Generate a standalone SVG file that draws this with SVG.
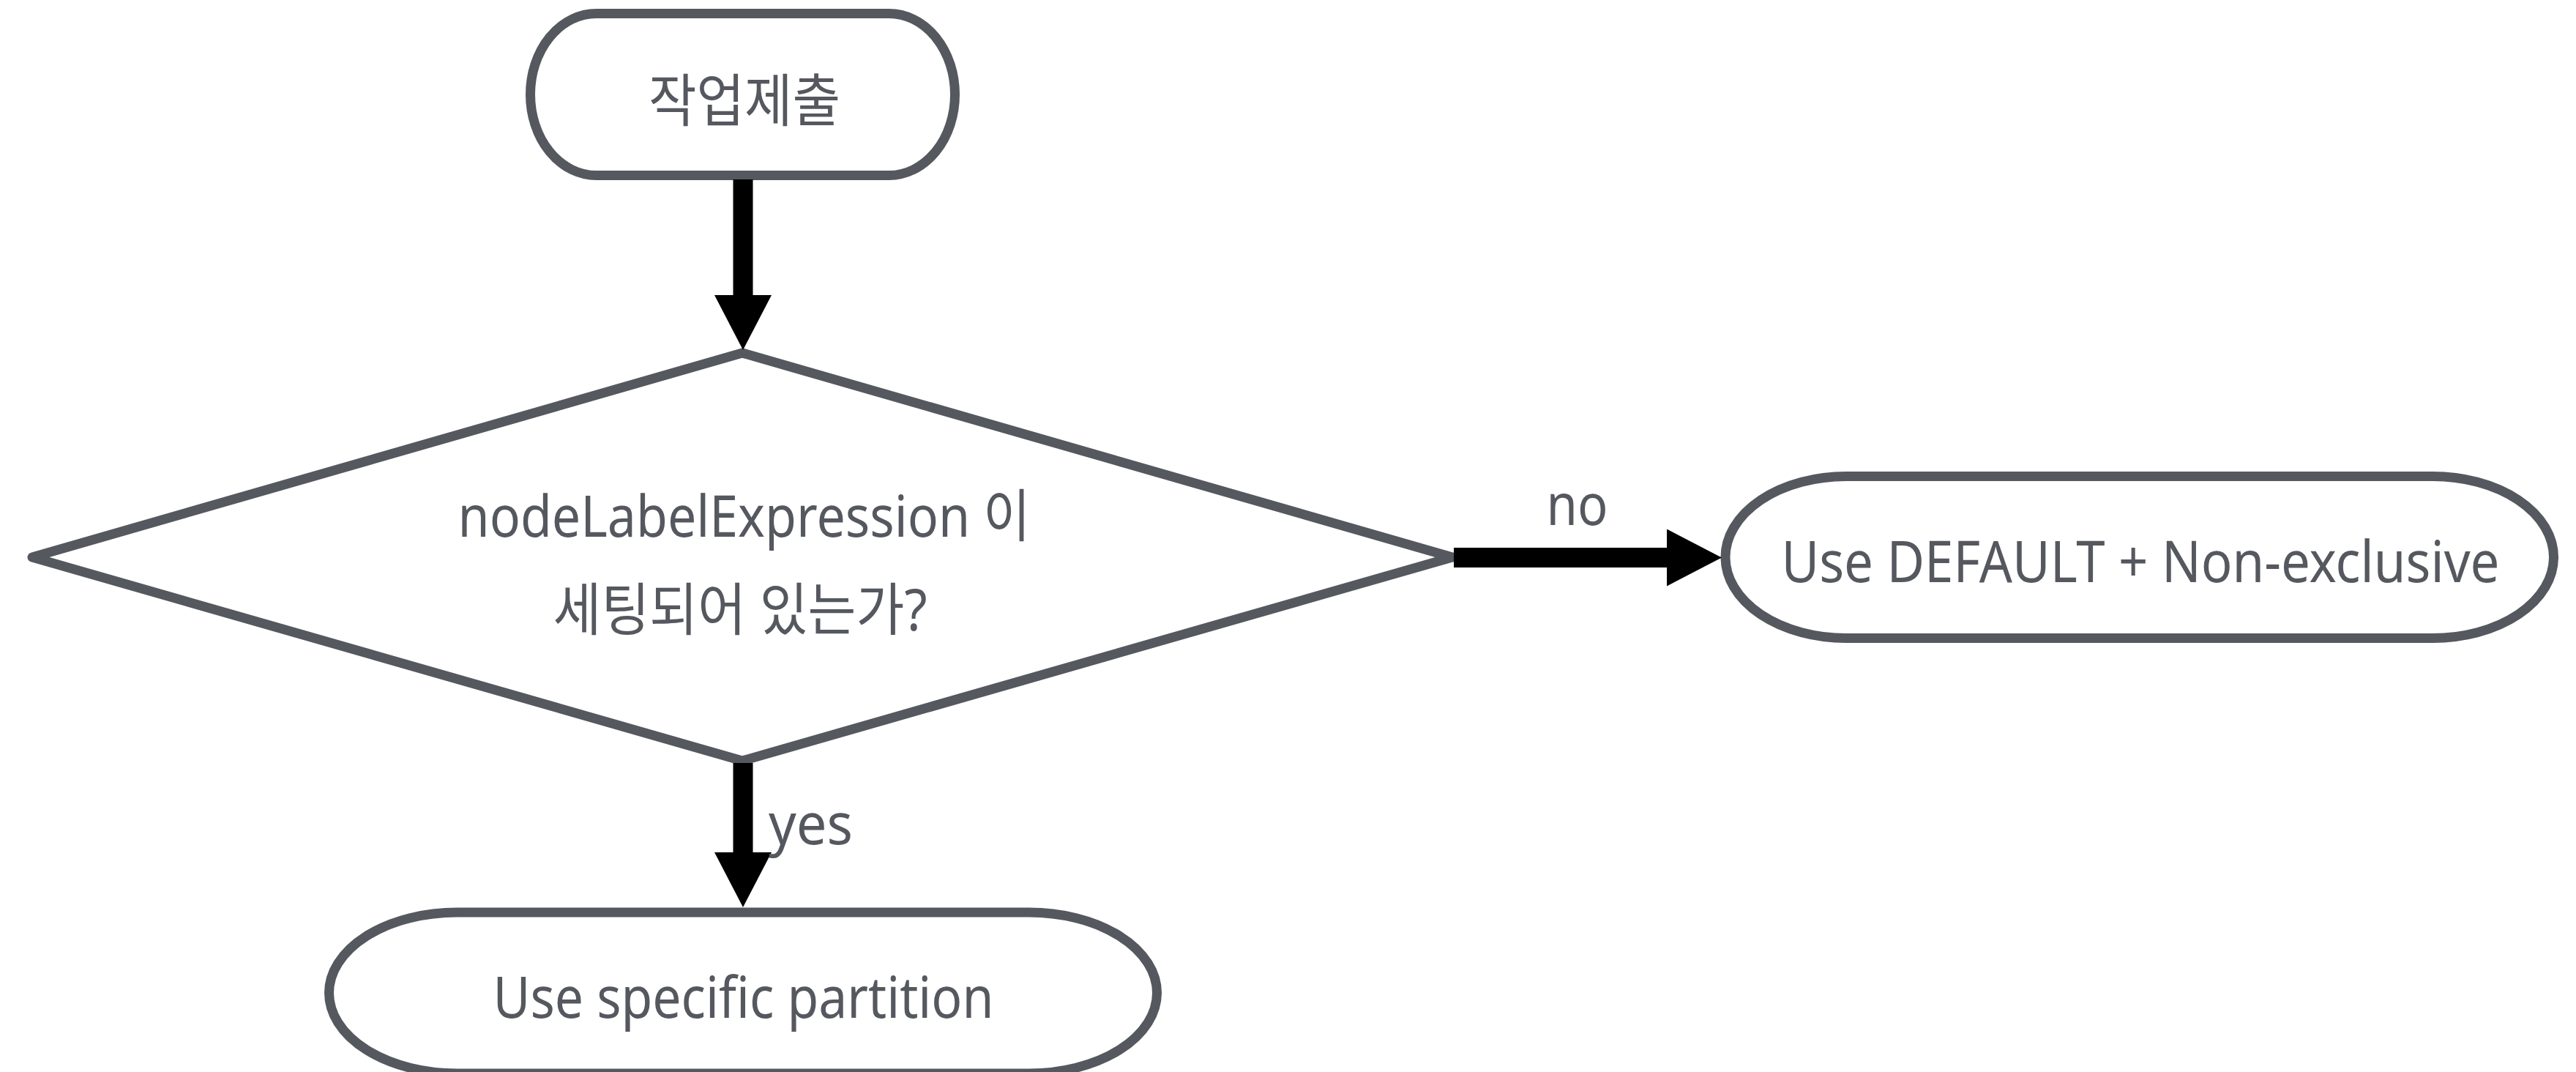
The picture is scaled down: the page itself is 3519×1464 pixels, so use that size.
<svg xmlns="http://www.w3.org/2000/svg" width="3519" height="1464" viewBox="0 0 3519 1464">
  <defs>
    <style>
      .shape { fill: #ffffff; stroke: #55585e; stroke-width: 13; stroke-linejoin: round; }
      .label { font-family: "Noto Sans", "Noto Sans CJK KR", sans-serif; font-size: 78px; fill: #55585e; }
      .mid { text-anchor: middle; }
      .edge { fill: none; stroke: #000000; stroke-width: 27; }
    </style>
    <marker id="head" markerUnits="userSpaceOnUse" viewBox="0 0 75 78" markerWidth="75" markerHeight="78" refX="1" refY="39" orient="auto">
      <path d="M0,0 L75,39 L0,78 Z" fill="#000000"/>
    </marker>
  </defs>

  <rect x="0" y="0" width="3519" height="1464" fill="#ffffff"/>

  <!-- start terminal -->
  <g id="node-submit">
    <rect class="shape" x="724.5" y="18.5" width="580" height="221" rx="90" ry="110.5"/>
    <text class="label mid" x="1017" y="166" textLength="262" lengthAdjust="spacingAndGlyphs">작업제출</text>
  </g>

  <!-- decision -->
  <g id="node-decision">
    <path class="shape" d="M1014,482 L1984,761 L1014,1039 L44,761 Z"/>
    <text class="label mid" x="1016.5" y="733" textLength="782" lengthAdjust="spacingAndGlyphs">nodeLabelExpression 이</text>
    <text class="label mid" x="1011" y="861" textLength="511" lengthAdjust="spacingAndGlyphs">세팅되어 있는가?</text>
  </g>

  <!-- "no" outcome -->
  <g id="node-default">
    <rect class="shape" x="2357" y="650.5" width="1131.5" height="221" rx="165" ry="110.5"/>
    <text class="label mid" x="2924" y="795" textLength="981" lengthAdjust="spacingAndGlyphs">Use DEFAULT + Non-exclusive</text>
  </g>

  <!-- "yes" outcome -->
  <g id="node-partition">
    <rect class="shape" x="449.5" y="1246" width="1131" height="220" rx="175" ry="110"/>
    <text class="label mid" x="1015.5" y="1390" textLength="684" lengthAdjust="spacingAndGlyphs">Use specific partition</text>
  </g>

  <!-- connectors -->
  <g id="connectors">
    <path class="edge" d="M1015,245 L1015,404" marker-end="url(#head)"/>
    <path class="edge" d="M1986,761.5 L2278,761.5" marker-end="url(#head)"/>
    <path class="edge" d="M1015,1042 L1015,1165" marker-end="url(#head)"/>
    <text class="label mid" x="2154.5" y="717" textLength="84" lengthAdjust="spacingAndGlyphs">no</text>
    <text class="label" x="1050" y="1153" textLength="115" lengthAdjust="spacingAndGlyphs">yes</text>
  </g>
</svg>
